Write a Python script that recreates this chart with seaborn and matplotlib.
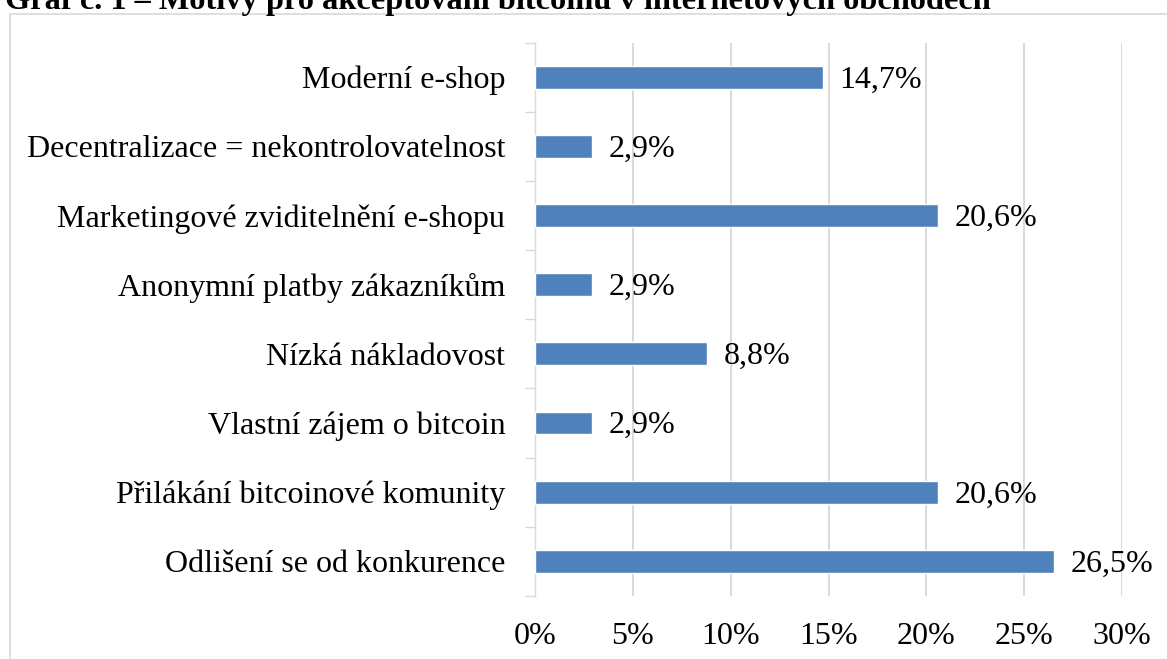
import matplotlib
matplotlib.use("Agg")
import matplotlib.pyplot as plt
from matplotlib.patches import Rectangle
from matplotlib.ticker import FixedLocator, FuncFormatter
import seaborn as sns
import pandas as pd

categories = [
    "Moderní e-shop",
    "Decentralizace = nekontrolovatelnost",
    "Marketingové zviditelnění e-shopu",
    "Anonymní platby zákazníkům",
    "Nízká nákladovost",
    "Vlastní zájem o bitcoin",
    "Přilákání bitcoinové komunity",
    "Odlišení se od konkurence",
]
values = [14.7, 2.9, 20.6, 2.9, 8.8, 2.9, 20.6, 26.5]
x_ticks = [0, 5, 10, 15, 20, 25, 30]
title = "Graf č. 1 – Motivy pro akceptování bitcoinu v internetových obchodech"

df = pd.DataFrame({"kategorie": categories, "hodnota": values})

sns.set_theme(style="white")
plt.rcParams["font.family"] = ["Liberation Serif", "DejaVu Serif"]

FS = 23
W, H = 1167, 659
fig = plt.figure(figsize=(W / 100, H / 100), dpi=100)
ax = fig.add_axes([535 / W, 1 - 596 / H, (1122 - 535) / W, (596 - 42.5) / H])

sns.barplot(data=df, x="hodnota", y="kategorie", orient="h", color="#4F81BD",
            saturation=1, width=0.33, ax=ax, zorder=3)

ax.set_xlim(0, 30)
ax.set_ylim(len(categories) - 0.5, -0.5)
ax.set_xlabel("")
ax.set_ylabel("")

grid_c = "#d9d9d9"
ax.xaxis.set_major_locator(FixedLocator(x_ticks))
ax.xaxis.set_major_formatter(FuncFormatter(lambda v, p: f"{v:g}%"))
ax.grid(axis="x", color=grid_c, linewidth=1.4, zorder=0)
ax.set_axisbelow(True)
ax.tick_params(axis="x", length=0, pad=18.5, labelsize=FS, colors="black")

ax.yaxis.set_minor_locator(FixedLocator([i - 0.5 for i in range(len(categories) + 1)]))
ax.tick_params(axis="y", which="major", length=0, pad=21.5, labelsize=FS, colors="black")
ax.tick_params(axis="y", which="minor", length=7.5, width=1.0, color=grid_c, left=True,
               direction="out")

for s in ["top", "right", "bottom"]:
    ax.spines[s].set_visible(False)
ax.spines["left"].set_color(grid_c)
ax.spines["left"].set_linewidth(1.0)

for i, v in enumerate(values):
    ax.annotate(f"{v:.1f}%".replace(".", ","), xy=(v, i), xytext=(12, -2),
                textcoords="offset points", va="center", ha="left",
                fontsize=FS, color="black")

# outer chart border (partially visible)
fig.patches.append(Rectangle((10 / W, -0.1), 1.2, (1 - 14 / H) + 0.1,
                             transform=fig.transFigure, fill=False,
                             edgecolor=grid_c, linewidth=1.2, clip_on=False))

t = fig.text(5 / W, 1 - 9 / H, title, ha="left", va="baseline",
             fontsize=20, fontweight="bold", color="black")
fig.canvas.draw()
r = fig.canvas.get_renderer()
w = t.get_window_extent(r).width
t.set_fontsize(20 * 984 / w)

fig.savefig("out.png", dpi=100)
